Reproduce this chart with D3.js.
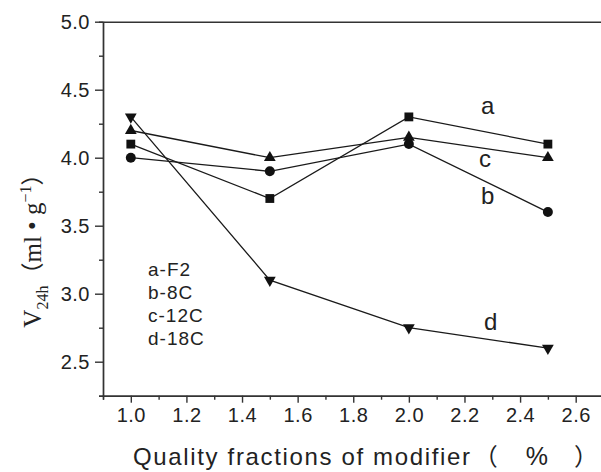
<!DOCTYPE html>
<html>
<head>
<meta charset="utf-8">
<script src="https://cdn.jsdelivr.net/npm/d3@7"></script>
<style>
  body { margin: 0; background: #fff; }
  svg { display: block; }
  .axis path, .axis line { stroke: #333; stroke-width: 1.4px; }
  .axis text { font-family: "Liberation Sans", Arial, sans-serif; font-size: 20px; letter-spacing: 0.5px; fill: #222; }
</style>
</head>
<body>
<script>
// data
var fractions = [1.0, 1.5, 2.0, 2.5];
var seriesA = [4.1, 3.7, 4.3, 4.1];   // a-F2, squares
var seriesB = [4.0, 3.9, 4.1, 3.6];   // b-8C, circles
var seriesC = [4.2, 4.0, 4.15, 4.0];  // c-12C, triangles up
var seriesD = [4.3, 3.1, 2.75, 2.6];  // d-18C, triangles down
var legendLabels = ["a-F2", "b-8C", "c-12C", "d-18C"];
var curveLabels = ["a", "b", "c", "d"];
var xTicks = [1.0, 1.2, 1.4, 1.6, 1.8, 2.0, 2.2, 2.4, 2.6];
var yTicks = [2.5, 3.0, 3.5, 4.0, 4.5, 5.0];

var width = 601, height = 472;
var x = d3.scaleLinear().domain([0.9, 2.7]).range([103, 603.5]);
var y = d3.scaleLinear().domain([2.25, 5.0]).range([395.7, 21.7]);

var svg = d3.select("body").append("svg")
    .attr("width", width)
    .attr("height", height);

// minor ticks
var xMinor = d3.range(9, 28).map(function(d) { return d / 10; })
    .filter(function(d) { return xTicks.indexOf(d) < 0; });
var yMinor = d3.range(9, 20).map(function(d) { return d / 4; })
    .filter(function(d) { return yTicks.indexOf(d) < 0; });

svg.append("g").attr("class", "axis")
    .attr("transform", "translate(0," + y(2.25) + ")")
    .call(d3.axisBottom(x).tickValues(xMinor).tickSize(4).tickFormat(""));
svg.append("g").attr("class", "axis")
    .attr("transform", "translate(0," + y(2.25) + ")")
    .call(d3.axisBottom(x).tickValues(xTicks).tickSize(7).tickSizeOuter(0).tickPadding(5)
        .tickFormat(d3.format(".1f")));

svg.append("g").attr("class", "axis")
    .attr("transform", "translate(" + x(0.9) + ",0)")
    .call(d3.axisLeft(y).tickValues(yMinor).tickSize(4).tickFormat(""));
svg.append("g").attr("class", "axis")
    .attr("transform", "translate(" + x(0.9) + ",0)")
    .call(d3.axisLeft(y).tickValues(yTicks).tickSize(8).tickSizeOuter(0).tickPadding(5)
        .tickFormat(d3.format(".1f")));

// top frame line
svg.append("g").attr("class", "axis")
    .attr("transform", "translate(0," + y(5.0) + ")")
    .call(d3.axisTop(x).tickValues([]).tickSizeOuter(0));

// lines and markers
var line = d3.line()
    .x(function(d) { return x(d[0]); })
    .y(function(d) { return y(d[1]); });

var allSeries = [
    {vals: seriesA, sym: d3.symbolSquare, size: 78, rot: 0},
    {vals: seriesB, sym: d3.symbolCircle, size: 78, rot: 0},
    {vals: seriesC, sym: d3.symbolTriangle, size: 60, rot: 0},
    {vals: seriesD, sym: d3.symbolTriangle, size: 60, rot: 180}
];

allSeries.forEach(function(s) {
    var pts = fractions.map(function(f, i) { return [f, s.vals[i]]; });
    svg.append("path")
        .attr("d", line(pts))
        .attr("fill", "none")
        .attr("stroke", "#1a1a1a")
        .attr("stroke-width", 1.3);
});

allSeries.forEach(function(s) {
    var pts = fractions.map(function(f, i) { return [f, s.vals[i]]; });
    svg.append("g").selectAll("path")
        .data(pts)
        .enter()
        .append("path")
            .attr("d", d3.symbol().type(s.sym).size(s.size))
            .attr("transform", function(d) {
                return "translate(" + x(d[0]) + "," + y(d[1]) + ") rotate(" + s.rot + ")";
            })
            .attr("fill", "#111");
});

// curve labels
var labelPos = [[481, 114], [481, 204], [479, 167], [484, 330]];
svg.append("g").selectAll("text")
    .data(curveLabels)
    .enter()
    .append("text")
        .attr("x", function(d, i) { return labelPos[i][0]; })
        .attr("y", function(d, i) { return labelPos[i][1]; })
        .style("font-family", "Liberation Sans, Arial, sans-serif")
        .style("font-size", "24px")
        .style("fill", "#222")
        .text(function(d) { return d; });

// legend text
svg.append("g").selectAll("text")
    .data(legendLabels)
    .enter()
    .append("text")
        .attr("x", 148)
        .attr("y", function(d, i) { return 276 + i * 23; })
        .style("font-family", "Liberation Sans, Arial, sans-serif")
        .style("font-size", "19px")
        .style("letter-spacing", "1px")
        .style("fill", "#222")
        .text(function(d) { return d; });

// x axis title
var xt = svg.append("text")
    .attr("x", 133)
    .attr("y", 465)
    .style("font-family", "Liberation Sans, Arial, sans-serif")
    .style("font-size", "24px")
    .style("fill", "#222");
xt.append("tspan").style("letter-spacing", "1.65px").text("Quality fractions of modifier");
xt.append("tspan").attr("dx", 2).style("font-family", "Noto Sans CJK SC").text("（");
xt.append("tspan").attr("dx", 28).style("font-size", "25px").text("%");
xt.append("tspan").attr("dx", 26).style("font-family", "Noto Sans CJK SC").text("）");

// y axis title
var yt = svg.append("text")
    .attr("transform", "translate(41,245) rotate(-90)")
    .style("text-anchor", "middle")
    .style("font-family", "Liberation Serif, Times New Roman, serif")
    .style("font-size", "25px")
    .style("fill", "#222");
yt.append("tspan").text("V");
yt.append("tspan").attr("dy", 7).style("font-size", "16px").text("24h");
yt.append("tspan").attr("dy", -7).style("font-family", "Noto Sans CJK SC").style("font-size", "23px").text("（");
yt.append("tspan").text("ml • g");
yt.append("tspan").attr("dy", -10).style("font-size", "16px").text("−1");
yt.append("tspan").attr("dy", 10).style("font-family", "Noto Sans CJK SC").style("font-size", "23px").text("）");
</script>
</body>
</html>
